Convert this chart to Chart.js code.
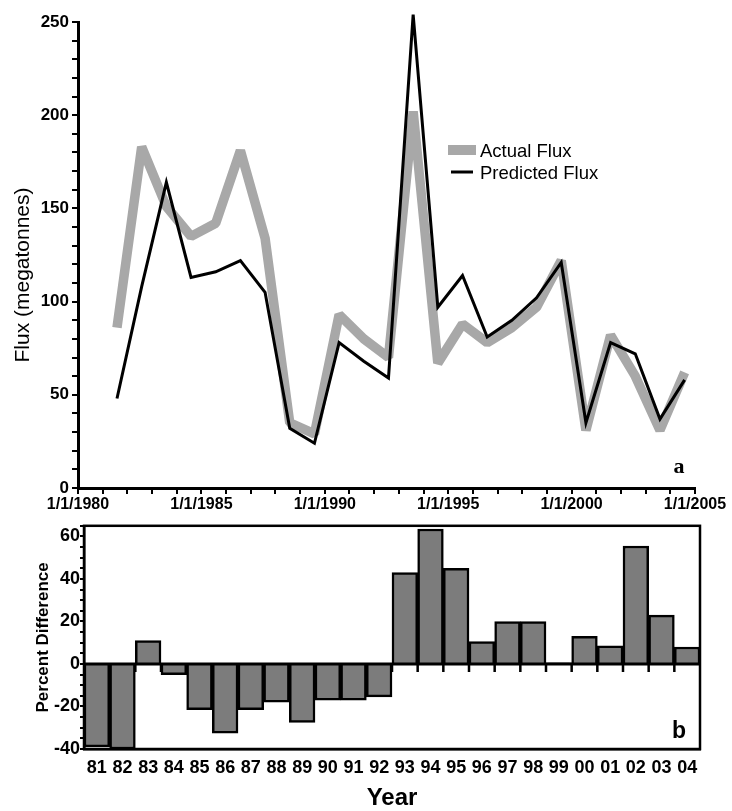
<!DOCTYPE html>
<html>
<head>
<meta charset="utf-8">
<script src="https://cdn.jsdelivr.net/npm/chart.js@4"></script>
<style>
  html, body { margin: 0; padding: 0; background: #fff; }
  #wrap { width: 732px; height: 811px; position: relative; }
  #top { position: absolute; left: 0; top: 0; }
  #bottom { position: absolute; left: 0; top: 515px; }
</style>
</head>
<body>
<div id="wrap">
  <canvas id="top" width="732" height="515"></canvas>
  <canvas id="bottom" width="732" height="296"></canvas>
</div>
<script>
// yearly values, plotted mid-year on the date axis
const years = [1981, 1982, 1983, 1984, 1985, 1986, 1987, 1988, 1989, 1990, 1991, 1992,
               1993, 1994, 1995, 1996, 1997, 1998, 1999, 2000, 2001, 2002, 2003, 2004];
const actualFlux = [86, 183, 151, 135, 142, 181, 134, 35, 29, 93, 80, 70,
                    202, 67, 88, 78, 86, 97, 122, 31, 82, 60, 31, 62];
const predictedFlux = [48, 108, 164, 113, 116, 122, 105, 32, 24, 78, 68, 59,
                       254, 97, 114, 81, 90, 102, 121, 35, 78, 72, 37, 58];

const yearLabels = ['81', '82', '83', '84', '85', '86', '87', '88', '89', '90', '91', '92',
                    '93', '94', '95', '96', '97', '98', '99', '00', '01', '02', '03', '04'];
const percentDiff = [-39, -40, 11, -5, -21.5, -32.5, -21.5, -18, -27.5, -17, -17, -15.5,
                     43, 63.5, 45, 10.5, 20, 20, 0.5, 13, 8.5, 55.5, 23, 8];

const MID = 0.58;
const FONT = "'Liberation Sans', Arial, sans-serif";

function toPoints(vals) {
    return years.map((y, i) => ({ x: y + MID, y: vals[i] }));
}

// legend, axis label and panel letter for the top panel
const topDecor = {
    id: 'topDecor',
    afterDraw(chart) {
        const ctx = chart.ctx;
        const area = chart.chartArea;
        const ds = chart.data.datasets;
        ctx.save();
        ctx.fillStyle = '#000';

        // y axis title
        ctx.save();
        ctx.translate(23, (area.top + area.bottom) / 2 + 20);
        ctx.rotate(-Math.PI / 2);
        ctx.font = '21px ' + FONT;
        ctx.textAlign = 'center';
        ctx.textBaseline = 'middle';
        ctx.fillText('Flux (megatonnes)', 0, 0);
        ctx.restore();

        // legend
        ctx.fillStyle = ds[1].borderColor;
        ctx.fillRect(448, 145, 28, 10);
        ctx.strokeStyle = ds[0].borderColor;
        ctx.lineWidth = 3;
        ctx.beginPath();
        ctx.moveTo(451, 172);
        ctx.lineTo(473, 172);
        ctx.stroke();
        ctx.fillStyle = '#000';
        ctx.font = '18.5px ' + FONT;
        ctx.textAlign = 'left';
        ctx.textBaseline = 'middle';
        ctx.fillText(ds[1].label, 480, 152);
        ctx.fillText(ds[0].label, 480, 174);

        // panel letter
        ctx.font = "bold 22px 'Liberation Serif', serif";
        ctx.textAlign = 'center';
        ctx.fillText('a', 679, 467);
        ctx.restore();
    }
};

new Chart(document.getElementById('top'), {
    type: 'line',
    data: {
        datasets: [
            {
                label: 'Predicted Flux',
                data: toPoints(predictedFlux),
                borderColor: '#000000',
                borderWidth: 3,
                pointRadius: 0,
                clip: false,
                order: 1
            },
            {
                label: 'Actual Flux',
                data: toPoints(actualFlux),
                borderColor: '#a8a8a8',
                borderWidth: 9.5,
                borderJoinStyle: 'bevel',
                pointRadius: 0,
                clip: false,
                order: 2
            }
        ]
    },
    options: {
        responsive: false,
        animation: false,
        layout: { padding: { top: 22, right: 37, left: 0, bottom: 0 } },
        plugins: { legend: { display: false }, tooltip: { enabled: false } },
        scales: {
            x: {
                type: 'linear',
                min: 1980,
                max: 2005,
                afterFit: s => { s.height = 27; },
                border: { color: '#000', width: 3 },
                grid: { drawOnChartArea: false, tickLength: 6, color: '#000', lineWidth: 2 },
                ticks: {
                    stepSize: 1,
                    autoSkip: false,
                    maxRotation: 0,
                    padding: 1,
                    color: '#000',
                    font: { family: FONT, size: 16, weight: 'bold' },
                    callback: v => (v % 5 === 0 ? '1/1/' + v : '')
                }
            },
            y: {
                min: 0,
                max: 250,
                afterFit: s => { s.width = 78; },
                border: { color: '#000', width: 3 },
                grid: { drawOnChartArea: false, tickLength: 6, color: '#000', lineWidth: 2 },
                ticks: {
                    stepSize: 10,
                    autoSkip: false,
                    padding: 3,
                    color: '#000',
                    font: { family: FONT, size: 17, weight: 'bold' },
                    callback: v => (v % 50 === 0 ? v : '')
                }
            }
        }
    },
    plugins: [topDecor]
});

// frame, zero line with its ticks, and panel letter for the bottom panel
const bottomDecor = {
    id: 'bottomDecor',
    afterDraw(chart) {
        const ctx = chart.ctx;
        const area = chart.chartArea;
        const xs = chart.scales.x;
        const ys = chart.scales.y;
        ctx.save();
        ctx.strokeStyle = '#000';
        ctx.lineWidth = 2.5;
        ctx.strokeRect(area.left, area.top, area.right - area.left, area.bottom - area.top);

        const y0 = Math.round(ys.getPixelForValue(0));
        ctx.lineWidth = 3;
        ctx.beginPath();
        ctx.moveTo(area.left, y0);
        ctx.lineTo(area.right, y0);
        ctx.stroke();

        ctx.lineWidth = 2.5;
        ctx.beginPath();
        for (let i = 1; i < yearLabels.length; i++) {
            const x = (xs.getPixelForValue(i - 1) + xs.getPixelForValue(i)) / 2;
            ctx.moveTo(x, y0);
            ctx.lineTo(x, y0 + 8);
        }
        ctx.stroke();

        ctx.fillStyle = '#000';
        ctx.font = 'bold 23px ' + FONT;
        ctx.textAlign = 'center';
        ctx.textBaseline = 'middle';
        ctx.fillText('b', 679, 732 - 515);
        ctx.restore();
    }
};

new Chart(document.getElementById('bottom'), {
    type: 'bar',
    data: {
        labels: yearLabels,
        datasets: [{
            label: 'Percent Difference',
            data: percentDiff,
            backgroundColor: '#7c7c7c',
            borderColor: '#000000',
            borderWidth: 2.5,
            borderSkipped: 'start',
            categoryPercentage: 1,
            barPercentage: 1
        }]
    },
    options: {
        responsive: false,
        animation: false,
        layout: { padding: { top: 5, right: 32, left: 0, bottom: 0 } },
        plugins: { legend: { display: false }, tooltip: { enabled: false } },
        scales: {
            x: {
                afterFit: s => { s.height = 62; },
                border: { color: '#000', width: 2.5 },
                grid: { display: false, drawTicks: false },
                ticks: {
                    autoSkip: false,
                    maxRotation: 0,
                    padding: 8,
                    color: '#000',
                    font: { family: FONT, size: 18, weight: 'bold' }
                },
                title: {
                    display: true,
                    text: 'Year',
                    color: '#000',
                    font: { family: FONT, size: 24, weight: 'bold', lineHeight: 1 },
                    padding: { top: 0, bottom: 1 }
                }
            },
            y: {
                min: -40,
                max: 65,
                afterFit: s => { s.width = 84; },
                border: { color: '#000', width: 2.5 },
                grid: {
                    drawOnChartArea: false,
                    tickLength: 4,
                    lineWidth: 2,
                    color: '#000'
                },
                ticks: {
                    stepSize: 5,
                    autoSkip: false,
                    padding: 0,
                    color: '#000',
                    font: { family: FONT, size: 18, weight: 'bold' },
                    callback: v => (v % 20 === 0 ? v : '')
                },
                title: {
                    display: true,
                    text: 'Percent Difference',
                    color: '#000',
                    font: { family: FONT, size: 17, weight: 'bold' },
                    padding: { top: 33, bottom: 0 }
                }
            }
        }
    },
    plugins: [bottomDecor]
});
</script>
</body>
</html>
